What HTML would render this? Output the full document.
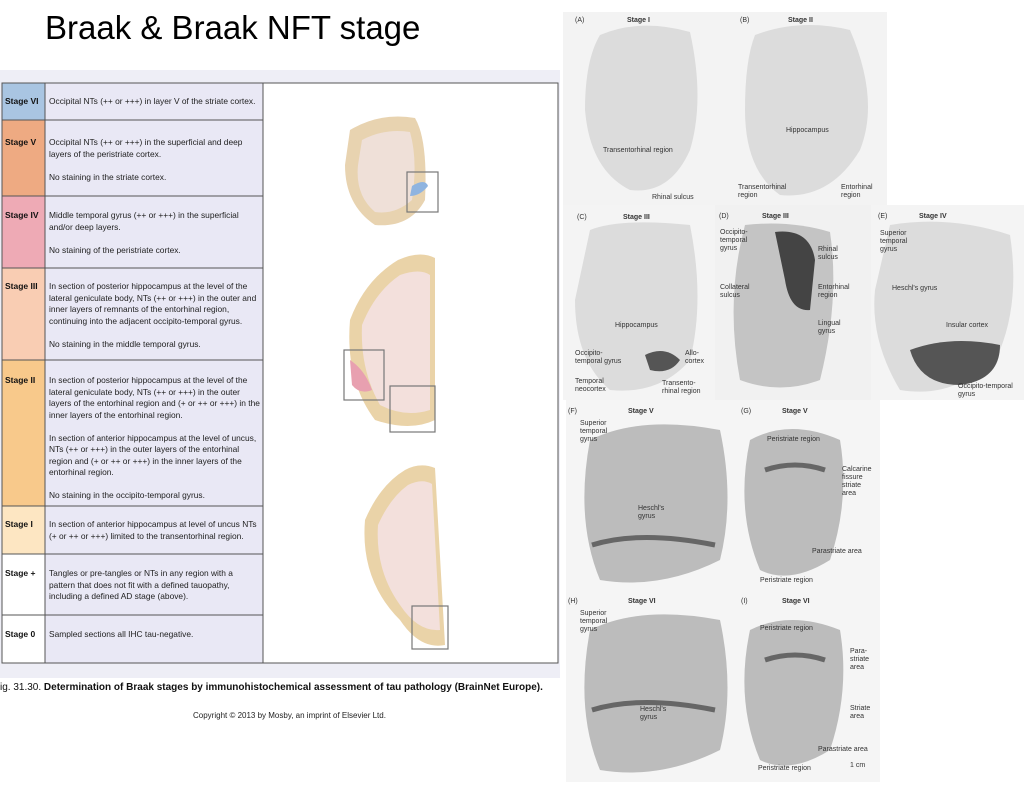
<!DOCTYPE html>
<html><head><meta charset="utf-8"><style>
body{margin:0;width:1024px;height:797px;background:#fff;position:relative;overflow:hidden;font-family:"Liberation Sans",sans-serif}
.abs{position:absolute}
.t{font-size:8.4px;line-height:11.5px;color:#222}
.s{font-size:8.5px;font-weight:bold;color:#111}
.lb{position:absolute;font-size:7px;color:#333;line-height:8px}
</style></head><body>
<div class="abs" style="left:45px;top:9px;font-size:33px;color:#000">Braak &amp; Braak NFT stage</div>
<div class="abs" style="left:0;top:70px;width:560px;height:608px;background:#eeeef6"></div>
<svg class="abs" style="left:0;top:0" width="1024" height="797">
<rect x="2" y="83" width="556" height="580" fill="#fff" stroke="#555"/>
<rect x="45" y="83" width="218" height="580" fill="#e9e8f5"/>
<rect x="2" y="83" width="43" height="37" fill="#a9c5e2"/>
<rect x="2" y="120" width="43" height="76" fill="#eeaa82"/>
<rect x="2" y="196" width="43" height="72" fill="#eeaab5"/>
<rect x="2" y="268" width="43" height="92" fill="#f9cdb3"/>
<rect x="2" y="360" width="43" height="146" fill="#f8c98b"/>
<rect x="2" y="506" width="43" height="48" fill="#fde6c2"/>
<g stroke="#555" stroke-width="1">
<line x1="2" y1="120" x2="263" y2="120"/><line x1="2" y1="196" x2="263" y2="196"/>
<line x1="2" y1="268" x2="263" y2="268"/><line x1="2" y1="360" x2="263" y2="360"/>
<line x1="2" y1="506" x2="263" y2="506"/><line x1="2" y1="554" x2="263" y2="554"/>
<line x1="2" y1="615" x2="263" y2="615"/>
<line x1="45" y1="83" x2="45" y2="663"/><line x1="263" y1="83" x2="263" y2="663"/>
<rect x="2" y="83" width="556" height="580" fill="none"/>
</g>
<path d="M350 130 Q380 112 415 118 Q428 140 425 200 Q410 228 375 225 Q345 205 345 165 Z" fill="#e8d3b0"/>
<path d="M362 140 Q385 128 410 132 Q418 160 412 200 Q395 215 375 212 Q355 195 358 165 Z" fill="#efe0d8"/>
<rect x="407" y="172" width="31" height="40" fill="none" stroke="#777" stroke-width="1.2"/>
<path d="M412 186 Q425 178 428 186 Q420 196 410 196Z" fill="#8fb4e0"/>
<path d="M398 260 Q420 250 435 258 L435 420 Q410 432 375 420 Q345 380 350 320 Q365 280 398 260Z" fill="#ead3a8"/>
<path d="M400 275 Q420 268 430 275 L430 410 Q405 418 380 405 Q360 370 362 325 Q375 292 400 275Z" fill="#f3e0dc"/>
<rect x="344" y="350" width="40" height="50" fill="none" stroke="#777" stroke-width="1.2"/>
<path d="M350 360 Q365 370 372 390 Q360 395 352 385Z" fill="#e8a0b0"/>
<rect x="390" y="386" width="45" height="46" fill="none" stroke="#777" stroke-width="1.2"/>
<path d="M405 470 Q420 462 435 468 L445 645 Q420 650 400 620 Q360 580 365 520 Q380 485 405 470Z" fill="#ead3a8"/>
<path d="M408 485 Q422 478 432 484 L440 630 Q418 632 400 605 Q375 570 378 525 Q390 498 408 485Z" fill="#f3e0dc"/>
<rect x="412" y="606" width="36" height="43" fill="none" stroke="#777" stroke-width="1.2"/>
<rect x="563" y="12" width="324" height="193" fill="#f3f3f3"/>
<rect x="563" y="205" width="152" height="195" fill="#f4f4f4"/>
<rect x="715" y="205" width="156" height="195" fill="#f1f1f1"/>
<rect x="871" y="205" width="153" height="195" fill="#f4f4f4"/>
<rect x="566" y="400" width="170" height="192" fill="#f5f5f5"/>
<rect x="736" y="400" width="144" height="192" fill="#f5f5f5"/>
<rect x="566" y="592" width="170" height="190" fill="#f5f5f5"/>
<rect x="736" y="592" width="144" height="190" fill="#f5f5f5"/>
<g fill="#dcdcdc">
<path d="M600 35 Q640 18 690 32 Q705 100 690 150 Q670 195 630 190 Q590 170 585 110 Q585 60 600 35Z"/>
<path d="M755 35 Q800 18 850 30 Q880 100 860 150 Q830 200 780 195 Q745 170 745 110 Q745 60 755 35Z"/>
<path d="M590 230 Q620 218 690 225 Q705 300 690 360 Q660 395 610 390 Q575 360 575 300Z"/>
<path d="M745 225 Q790 220 830 232 Q840 300 820 380 Q780 395 740 380 Q725 300 745 225Z" fill="#c4c4c4"/>
<path d="M890 225 Q950 215 1010 235 Q1020 300 1000 350 Q960 400 900 390 Q870 340 875 290Z"/>
</g>
<g fill="#bcbcbc">
<path d="M590 440 Q640 415 720 430 Q735 500 720 560 Q660 590 600 580 Q575 520 590 440Z"/>
<path d="M750 440 Q790 418 840 440 Q850 500 830 560 Q790 585 760 570 Q735 510 750 440Z"/>
<path d="M590 630 Q640 605 720 620 Q735 690 720 750 Q660 780 600 770 Q575 710 590 630Z"/>
<path d="M750 630 Q790 610 840 630 Q850 690 830 750 Q790 775 760 760 Q735 700 750 630Z"/>
</g>
<g fill="#444">
<path d="M775 232 Q810 228 815 260 L810 310 Q790 312 785 280Z"/>
<path d="M910 350 Q950 335 1000 345 Q1000 380 960 385 Q920 385 910 350Z" fill="#555"/>
<path d="M645 355 Q665 345 680 360 Q670 375 650 370Z" fill="#555"/>
</g>
<g fill="none" stroke="#666" stroke-width="5">
<path d="M592 545 Q640 530 715 545"/>
<path d="M765 470 Q795 460 825 470"/>
<path d="M592 710 Q640 695 715 710"/>
<path d="M765 660 Q795 650 825 660"/>
</g>
</svg>
<div class="abs s" style="left:5px;top:96px">Stage VI</div>
<div class="abs s" style="left:5px;top:137px">Stage V</div>
<div class="abs s" style="left:5px;top:210px">Stage IV</div>
<div class="abs s" style="left:5px;top:281px">Stage III</div>
<div class="abs s" style="left:5px;top:375px">Stage II</div>
<div class="abs s" style="left:5px;top:519px">Stage I</div>
<div class="abs s" style="left:5px;top:568px">Stage +</div>
<div class="abs s" style="left:5px;top:629px">Stage 0</div>
<div class="abs t" style="left:49px;top:96px;width:212px">Occipital NTs (++ or +++) in layer V of the striate cortex.</div>
<div class="abs t" style="left:49px;top:137px;width:212px">Occipital NTs (++ or +++) in the superficial and deep layers of the peristriate cortex.<br><br>No staining in the striate cortex.</div>
<div class="abs t" style="left:49px;top:210px;width:212px">Middle temporal gyrus (++ or +++) in the superficial and/or deep layers.<br><br>No staining of the peristriate cortex.</div>
<div class="abs t" style="left:49px;top:281px;width:212px">In section of posterior hippocampus at the level of the lateral geniculate body, NTs (++ or +++) in the outer and inner layers of remnants of the entorhinal region, continuing into the adjacent occipito-temporal gyrus.<br><br>No staining in the middle temporal gyrus.</div>
<div class="abs t" style="left:49px;top:375px;width:212px">In section of posterior hippocampus at the level of the lateral geniculate body, NTs (++ or +++) in the outer layers of the entorhinal region and (+ or ++ or +++) in the inner layers of the entorhinal region.<br><br>In section of anterior hippocampus at the level of uncus, NTs (++ or +++) in the outer layers of the entorhinal region and (+ or ++ or +++) in the inner layers of the entorhinal region.<br><br>No staining in the occipito-temporal gyrus.</div>
<div class="abs t" style="left:49px;top:519px;width:212px">In section of anterior hippocampus at level of uncus NTs (+ or ++ or +++) limited to the transentorhinal region.</div>
<div class="abs t" style="left:49px;top:568px;width:212px">Tangles or pre-tangles or NTs in any region with a pattern that does not fit with a defined tauopathy, including a defined AD stage (above).</div>
<div class="abs t" style="left:49px;top:629px;width:212px">Sampled sections all IHC tau-negative.</div>
<div class="abs" style="left:0;top:682px;font-size:10px;color:#111">ig. 31.30. <b>Determination of Braak stages by immunohistochemical assessment of tau pathology (BrainNet Europe).</b></div>
<div class="abs" style="left:193px;top:711px;font-size:8px;color:#222">Copyright © 2013 by Mosby, an imprint of Elsevier Ltd.</div>
<div class="lb" style="left:575px;top:17px">(A)</div><div class="lb" style="left:627px;top:17px;font-weight:bold">Stage I</div>
<div class="lb" style="left:740px;top:17px">(B)</div><div class="lb" style="left:788px;top:17px;font-weight:bold">Stage II</div>
<div class="lb" style="left:603px;top:147px">Transentorhinal region</div>
<div class="lb" style="left:652px;top:194px">Rhinal sulcus</div>
<div class="lb" style="left:786px;top:127px">Hippocampus</div>
<div class="lb" style="left:738px;top:184px">Transentorhinal<br>region</div>
<div class="lb" style="left:841px;top:184px">Entorhinal<br>region</div>
<div class="lb" style="left:577px;top:214px">(C)</div><div class="lb" style="left:623px;top:214px;font-weight:bold">Stage III</div>
<div class="lb" style="left:719px;top:213px">(D)</div><div class="lb" style="left:762px;top:213px;font-weight:bold">Stage III</div>
<div class="lb" style="left:878px;top:213px">(E)</div><div class="lb" style="left:919px;top:213px;font-weight:bold">Stage IV</div>
<div class="lb" style="left:615px;top:322px">Hippocampus</div>
<div class="lb" style="left:575px;top:350px">Occipito-<br>temporal gyrus</div>
<div class="lb" style="left:685px;top:350px">Allo-<br>cortex</div>
<div class="lb" style="left:575px;top:378px">Temporal<br>neocortex</div>
<div class="lb" style="left:662px;top:380px">Transento-<br>rhinal region</div>
<div class="lb" style="left:720px;top:229px">Occipito-<br>temporal<br>gyrus</div>
<div class="lb" style="left:818px;top:246px">Rhinal<br>sulcus</div>
<div class="lb" style="left:720px;top:284px">Collateral<br>sulcus</div>
<div class="lb" style="left:818px;top:284px">Entorhinal<br>region</div>
<div class="lb" style="left:818px;top:320px">Lingual<br>gyrus</div>
<div class="lb" style="left:880px;top:230px">Superior<br>temporal<br>gyrus</div>
<div class="lb" style="left:892px;top:285px">Heschl's gyrus</div>
<div class="lb" style="left:946px;top:322px">Insular cortex</div>
<div class="lb" style="left:958px;top:383px">Occipito-temporal<br>gyrus</div>
<div class="lb" style="left:568px;top:408px">(F)</div><div class="lb" style="left:628px;top:408px;font-weight:bold">Stage V</div>
<div class="lb" style="left:741px;top:408px">(G)</div><div class="lb" style="left:782px;top:408px;font-weight:bold">Stage V</div>
<div class="lb" style="left:580px;top:420px">Superior<br>temporal<br>gyrus</div>
<div class="lb" style="left:638px;top:505px">Heschl's<br>gyrus</div>
<div class="lb" style="left:767px;top:436px">Peristriate region</div>
<div class="lb" style="left:842px;top:466px">Calcarine<br>fissure<br>striate<br>area</div>
<div class="lb" style="left:812px;top:548px">Parastriate area</div>
<div class="lb" style="left:760px;top:577px">Peristriate region</div>
<div class="lb" style="left:568px;top:598px">(H)</div><div class="lb" style="left:628px;top:598px;font-weight:bold">Stage VI</div>
<div class="lb" style="left:741px;top:598px">(I)</div><div class="lb" style="left:782px;top:598px;font-weight:bold">Stage VI</div>
<div class="lb" style="left:580px;top:610px">Superior<br>temporal<br>gyrus</div>
<div class="lb" style="left:640px;top:706px">Heschl's<br>gyrus</div>
<div class="lb" style="left:760px;top:625px">Peristriate region</div>
<div class="lb" style="left:850px;top:648px">Para-<br>striate<br>area</div>
<div class="lb" style="left:850px;top:705px">Striate<br>area</div>
<div class="lb" style="left:818px;top:746px">Parastriate area</div>
<div class="lb" style="left:758px;top:765px">Peristriate region</div>
<div class="lb" style="left:850px;top:762px">1 cm</div>
</body></html>
